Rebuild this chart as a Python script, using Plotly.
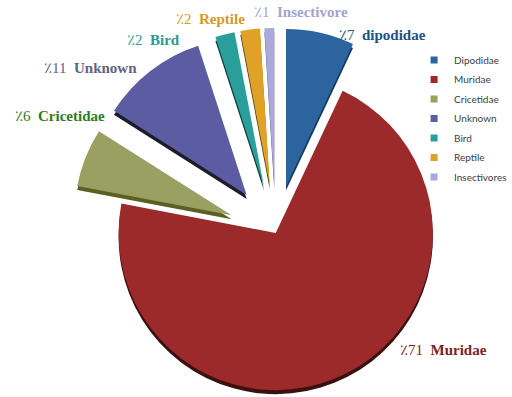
import math
import plotly.graph_objects as go

# Share of specimens by group (percent)
labels = ["Dipodidae", "Muridae", "Cricetidae", "Unknown", "Bird", "Reptile", "Insectivores"]
values = [7, 71, 6, 11, 2, 2, 1]
slice_text = ["dipodidae", "Muridae", "Cricetidae", "Unknown", "Bird", "Reptile", "Insectivore"]

slice_colors = ["#2b649f", "#9c2a2b", "#9aa062", "#5c5ca3", "#2a9e9b", "#dfa126", "#a9a9dc"]
side_colors = ["#163a5e", "#3a1010", "#5b5f22", "#1c1c2a", "#123c3a", "#4a3510", "#55557a"]
label_colors = ["#22527f", "#7c2326", "#2e7c1e", "#62627e", "#2a9a93", "#d49a2c", "#a3a3d2"]
exploded = [True, False, True, True, True, True, True]

W, H = 512, 397
CX, CY = 279, 233       # centre of the main (unexploded) slice, px
R = 159                 # pie radius, px
PULL = 48               # explode distance, px
DEPTH = 4               # visible thickness of the pie side, px

# label anchor points (left edge, vertical middle), px
label_pos = [(341, 35), (403, 350), (13, 116), (43, 68), (126, 40), (176, 19), (255, 12)]

# legend layout: left edge, first row centre, row step (px)
LEG_X, LEG_Y0, LEG_STEP = 419, 60, 19.5

total = sum(values)
fig = go.Figure()


def slice_centre(i):
    start = sum(values[:i]) / total * 360
    mid = math.radians(start + values[i] / total * 180)
    d = PULL if exploded[i] else 0
    return CX + d * math.sin(mid), CY - d * math.cos(mid)


def pie_for(i, colors, dy):
    cx, cy = slice_centre(i)
    cy += dy
    cols = ["rgba(0,0,0,0)"] * len(values)
    cols[i] = colors[i]
    return go.Pie(
        labels=labels, values=values, sort=False, direction="clockwise", rotation=0,
        marker=dict(colors=cols, line=dict(width=0)),
        textinfo="none", hoverinfo="skip", showlegend=False,
        domain=dict(x=[(cx - R) / W, (cx + R) / W],
                    y=[1 - (cy + R) / H, 1 - (cy - R) / H]),
    )


# side (thickness) first, then the top faces
for i in range(len(values)):
    fig.add_trace(pie_for(i, side_colors, DEPTH))
for i in range(len(values)):
    fig.add_trace(pie_for(i, slice_colors, 0))

# legend: one row per group
legend_layouts = {}
for i, (lab, col) in enumerate(zip(labels, slice_colors)):
    key = "legend" if i == 0 else f"legend{i + 1}"
    fig.add_trace(go.Scatter(x=[None], y=[None], mode="markers", name=lab,
                             legend=key,
                             marker=dict(symbol="square", size=7, color=col),
                             hoverinfo="skip"))
    legend_layouts[key] = dict(
        x=LEG_X / W, y=1 - (LEG_Y0 + i * LEG_STEP) / H,
        xanchor="left", yanchor="middle",
        font=dict(family="Lato", size=10, color="#404040"),
        bgcolor="rgba(0,0,0,0)",
    )

for i, (x, y) in enumerate(label_pos):
    fig.add_annotation(
        x=x / W, y=1 - y / H, xref="paper", yref="paper",
        xanchor="left", yanchor="middle", showarrow=False,
        text=f"\u066a{values[i]}\u2002<b>{slice_text[i]}</b>",
        font=dict(family="Liberation Serif", size=15, color=label_colors[i]),
    )

fig.update_layout(
    width=W, height=H,
    margin=dict(l=0, r=0, t=0, b=0),
    paper_bgcolor="white", plot_bgcolor="white",
    xaxis=dict(visible=False), yaxis=dict(visible=False),
    **legend_layouts,
)

fig.write_html("out.html")
